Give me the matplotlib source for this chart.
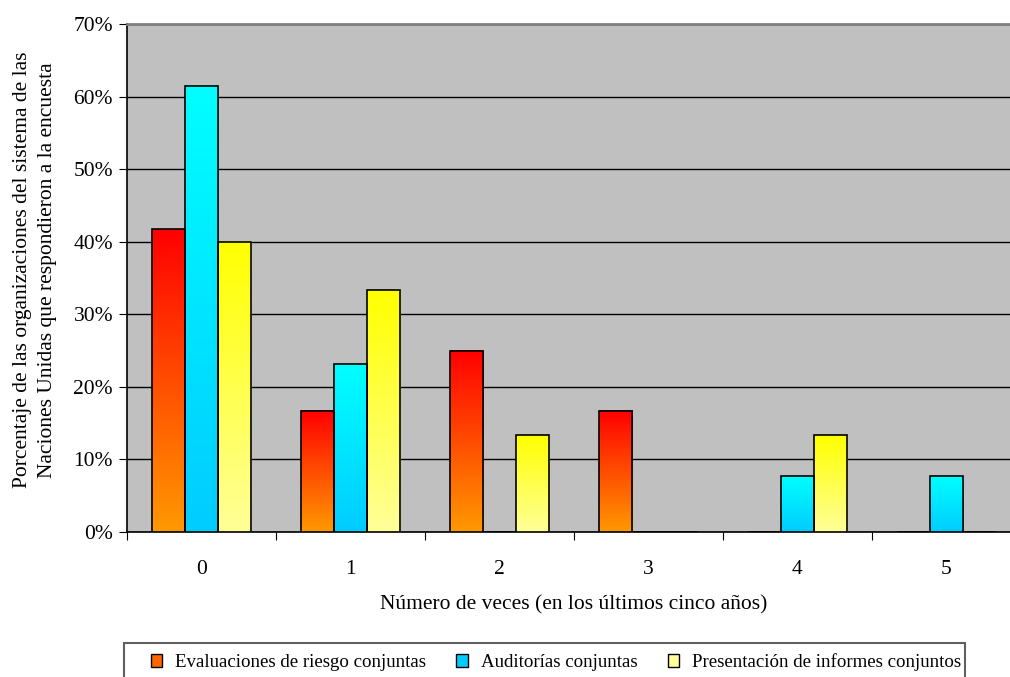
import numpy as np
import matplotlib
matplotlib.use("Agg")
import matplotlib.pyplot as plt
from matplotlib.patches import Rectangle, Patch
from matplotlib.colors import LinearSegmentedColormap

plt.rcParams['font.family'] = ['Liberation Serif', 'DejaVu Serif']

categorias = ['0', '1', '2', '3', '4', '5']
riesgo = [41.7, 16.7, 25.0, 16.7, 0, 0]
auditorias = [61.5, 23.1, 0, 0, 7.7, 7.7]
informes = [40.0, 33.3, 13.3, 0, 13.3, 0]
series = ['Evaluaciones de riesgo conjuntas', 'Auditorías conjuntas',
          'Presentación de informes conjuntos']

# top colour, bottom colour of each gradient
grad = [('#ff0000', '#ff9900'), ('#00ffff', '#00ccff'), ('#ffff00', '#ffff99')]
legend_cols = ['#ff6600', '#00ccff', '#ffff99']

fig = plt.figure(figsize=(10.1, 6.77), dpi=100)
ax = fig.add_axes([127/1010, 1-532/677, 894/1010, 508/677])
ax.set_facecolor('#c0c0c0')

x = np.arange(len(categorias))
w = 0.222
for i, vals in enumerate([riesgo, auditorias, informes]):
    cmap = LinearSegmentedColormap.from_list('g%d' % i, [grad[i][1], grad[i][0]])
    bars = ax.bar(x + (i - 1) * w, vals, w, facecolor='none', edgecolor='black',
                  linewidth=1.2, zorder=4)
    for b, v in zip(bars, vals):
        if v <= 0:
            continue
        g = np.linspace(0, 1, 256).reshape(-1, 1)
        ax.imshow(g, cmap=cmap, origin='lower', aspect='auto', zorder=3,
                  extent=[b.get_x(), b.get_x() + b.get_width(), 0, v])

ax.set_xlim(-0.5, 5.5)
ax.set_ylim(0, 70)
ax.set_yticks(range(0, 71, 10))
ax.set_yticklabels(['%d%%' % t for t in range(0, 71, 10)], fontsize=15.5)
ax.yaxis.grid(True, color='black', linewidth=1)
ax.set_axisbelow(True)
ax.set_xticks(np.arange(-0.5, 6, 1))
ax.set_xticklabels([])
ax.set_xticks(x, minor=True)
ax.set_xticklabels(categorias, minor=True, fontsize=15.5)
ax.tick_params(axis='x', which='minor', length=0, pad=20)
ax.tick_params(axis='x', which='major', length=6, direction='out')
ax.tick_params(axis='y', length=6, direction='out', pad=4)
for s in ['top', 'right']:
    ax.spines[s].set_color('#808080')
    ax.spines[s].set_linewidth(2)
ax.spines['left'].set_linewidth(1.2)
ax.spines['bottom'].set_linewidth(1.2)

ax.set_xlabel('Número de veces (en los últimos cinco años)', fontsize=15.5, labelpad=12)
fig.text(35/1010, 1-270/677,
         'Porcentaje de las organizaciones del sistema de las\nNaciones Unidas que respondieron a la encuesta',
         rotation=90, ha='center', va='center', fontsize=15.5, linespacing=1.4)

fig.patches.append(Rectangle((124/1010, -0.05), (965-124)/1010, 0.05 + 1-643/677,
                             transform=fig.transFigure, fill=False,
                             edgecolor='#606060', linewidth=1.5))
handles = [Patch(facecolor=c, edgecolor='black') for c in legend_cols]
fig.legend(handles, series, loc='center', bbox_to_anchor=(556/1010, 1-662/677),
           ncol=3, frameon=False, fontsize=13.6, handlelength=0.6, handleheight=0.7,
           handletextpad=0.7, columnspacing=1.6)

fig.savefig('out.png', dpi=100)
